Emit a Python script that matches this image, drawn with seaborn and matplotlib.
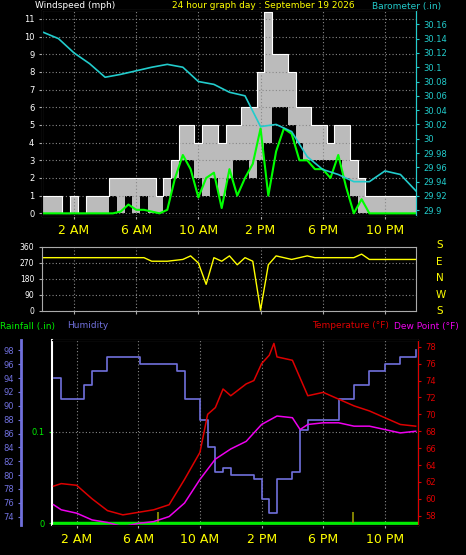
import numpy as np
import pandas as pd
import matplotlib
matplotlib.use('Agg')
import matplotlib.pyplot as plt
import seaborn as sns

# ---- data ----
half_hours = np.arange(0, 24.5, 0.5)

wind_gust = [1, 1, 1, 0, 1, 0, 1, 1, 1, 2, 2, 2, 2, 2, 2, 1, 2, 3, 5, 5,
             4, 5, 5, 4, 5, 5, 6, 6, 8, 11.4, 9, 9, 8, 6, 6, 5, 5, 4, 5, 5,
             3, 2, 1, 1, 1, 1, 1, 1, 1]
wind_low = [0, 0, 0, 0, 0, 0, 0, 0, 0, 1, 0, 1, 0, 1, 0, 0, 1, 2, 3, 3,
            2, 1, 2, 1, 2, 3, 3, 2, 3, 4, 6, 6, 5, 4, 3, 3, 3, 3, 3, 2,
            1, 0, 0, 0, 0, 0, 0, 0, 0]
wind_avg = [0, 0, 0, 0, 0, 0, 0, 0, 0, 0, 0.1, 0.5, 0.2, 0.2, 0.1, 0, 0.2, 2.0, 3.3, 2.5,
            0.9, 2.0, 2.3, 0.3, 2.5, 1.0, 2.0, 2.8, 4.8, 1.0, 3.5, 4.8, 4.5, 3.0, 3.0, 2.5,
            2.5, 2.0, 3.3, 1.5, 0, 0.8, 0, 0, 0, 0, 0, 0, 0]
wind_dir = [300, 300, 300, 300, 300, 300, 300, 300, 300, 300, 300, 300, 300, 300, 280, 280,
            280, 285, 290, 310, 270, 150, 300, 280, 310, 260, 300, 280, 5, 260, 310, 300,
            290, 300, 310, 300, 300, 300, 300, 300, 300, 320, 290, 290, 290, 290, 290, 290, 290]

hours = np.arange(0, 25)
barometer = [30.149, 30.14, 30.12, 30.105, 30.086, 30.09, 30.095, 30.10, 30.104, 30.10,
             30.08, 30.076, 30.065, 30.06, 30.017, 30.02, 30.01, 29.975, 29.957, 29.95,
             29.94, 29.94, 29.955, 29.95, 29.927]

th = [0.5, 1, 2, 3, 4, 5, 6, 7, 8, 9, 10, 10.5, 11, 11.5, 12, 13, 13.5, 14, 14.5, 14.8,
      15, 16, 17, 18, 19, 20, 21, 22, 23, 24]
temperature = [61.5, 61.8, 61.6, 60.0, 58.6, 58.1, 58.4, 58.7, 59.3, 62.3, 65.5, 70.0, 70.8,
               73.0, 72.2, 73.6, 74.0, 76.0, 77.0, 78.4, 76.8, 76.4, 72.2, 72.6, 71.8, 71.0,
               70.4, 69.6, 68.8, 68.6]
dh = [0.5, 1, 2, 3, 4, 5, 6, 7, 8, 9, 10, 11, 12, 13, 14, 15, 16, 16.5, 17, 18, 19, 20,
      21, 22, 23, 24]
dew_point = [59.3, 58.7, 58.3, 57.5, 57.2, 56.7, 57.1, 57.3, 57.9, 59.5, 62.3, 64.7, 65.9,
             66.8, 68.8, 69.8, 69.6, 68.2, 68.8, 69.0, 69.0, 68.6, 68.6, 68.2, 67.8, 68.0]
hh = [0.5, 1, 2, 2.5, 3, 4, 5, 6, 6.1, 7, 8, 8.5, 9, 10, 10.5, 11, 11.5, 12, 13, 13.5,
      14, 14.5, 15, 16, 16.5, 17, 18, 19, 20, 21, 22, 23, 24]
humidity = [94, 91, 91, 93, 95, 97, 97, 97, 96, 96, 96, 95, 91, 88, 84, 80.5, 81, 80, 80,
            79.5, 76.5, 74.5, 79.5, 80.5, 86.5, 88, 88, 91, 93, 95, 96, 97, 98]
rain_marks = [7.3, 19.9]

xticks = [2, 6, 10, 14, 18, 22]
xlabels = ['2 AM', '6 AM', '10 AM', '2 PM', '6 PM', '10 PM']

W, H = 466, 555
fig = plt.figure(figsize=(W / 100, H / 100), dpi=100, facecolor='black')


def px(l, t, r, b):
    return [l / W, 1 - b / H, (r - l) / W, (b - t) / H]


def style(ax, xlim):
    ax.set_facecolor('black')
    ax.set_xlim(*xlim)
    ax.grid(True, color='#888888', linestyle=(0, (1, 2)), linewidth=0.8)
    for s in ax.spines.values():
        s.set_color('#aaaaaa')
    ax.set_xticks(xticks)
    ax.tick_params(colors='#aaaaaa', labelsize=6, length=2)
    ax.set_xlabel('')
    ax.set_ylabel('')


# ---- top: wind + barometer ----
ax1 = fig.add_axes(px(42, 10, 416, 216))
ax1.fill_between(half_hours, wind_low, wind_gust, step='mid', color='#bbbbbb', lw=0)
ax1.step(half_hours, wind_gust, where='mid', color='white', lw=0.8)
sns.lineplot(x=half_hours, y=wind_avg, ax=ax1, color='#00ff00', lw=1.5)
style(ax1, (-0.06, 24.0))
ax1.set_ylim(-0.15, 11.5)
ax1.set_yticks(range(0, 12))
ax1.tick_params(axis='y', labelcolor='white')
ax1.set_xticklabels(xlabels, color='yellow', fontsize=9)
ax1b = ax1.twinx()
sns.lineplot(x=hours, y=barometer, ax=ax1b, color='#22cccc', lw=1.2)
ax1b.set_ylim(29.892, 30.18)
ax1b.set_yticks(np.round(np.arange(29.9, 30.17, 0.02), 2))
ax1b.set_yticklabels([f'{v:g}' for v in np.round(np.arange(29.9, 30.17, 0.02), 2)])
ax1b.tick_params(colors='#22cccc', labelsize=6, length=2)
ax1b.set_ylabel('')
ax1b.spines['right'].set_color('#22cccc')
fig.text(35 / W, 1 - 6 / H, 'Windspeed (mph)', color='white', fontsize=6.5, va='center')
fig.text(172 / W, 1 - 6 / H, '24 hour graph day : September 19 2026', color='yellow', fontsize=6.5, va='center')
fig.text(372 / W, 1 - 6 / H, 'Barometer (.in)', color='#22cccc', fontsize=6.5, va='center')

# ---- middle: wind direction ----
ax2 = fig.add_axes(px(42, 247, 416, 311))
sns.lineplot(x=half_hours, y=wind_dir, ax=ax2, color='yellow', lw=1)
style(ax2, (-0.06, 24.0))
ax2.set_ylim(0, 360)
ax2.set_yticks([0, 90, 180, 270, 360])
ax2.tick_params(axis='y', labelcolor='white', labelsize=5.5)
ax2.set_xticklabels([])
for lab, yy in zip(['S', 'E', 'N', 'W', 'S'], [245, 262, 278, 295, 311]):
    fig.text(436 / W, 1 - yy / H, lab, color='yellow', fontsize=7.5, va='center')

# ---- bottom: rain / humidity / temperature / dew point ----
ax3 = fig.add_axes(px(52, 340, 418, 525))
ax3.axhline(0, color='#00ee00', lw=2.5)
ax3.vlines(rain_marks, 0, 0.012, color='#999900', lw=1.2)
style(ax3, (0.4, 24.15))
ax3.set_ylim(-0.002, 0.2)
ax3.set_yticks([0, 0.1])
ax3.set_yticklabels(['0', '0.1'])
ax3.tick_params(axis='y', colors='#00ee00', labelsize=6)
ax3.spines['left'].set_color('white')
ax3.spines['left'].set_linewidth(1.5)
ax3.set_xticklabels(xlabels, color='yellow', fontsize=9)

ax3h = ax3.twinx()
sns.lineplot(x=hh, y=humidity, ax=ax3h, color='#7070dd', lw=1.2, drawstyle='steps-post')
ax3h.yaxis.set_label_position('left')
ax3h.yaxis.tick_left()
ax3h.spines['left'].set_position(('outward', 22))
ax3h.spines['left'].set_visible(True)
ax3h.spines['left'].set_color('#7070dd')
ax3h.spines['left'].set_linewidth(2)
ax3h.spines['right'].set_visible(False)
ax3h.set_ylim(72.8, 99.5)
ax3h.set_yticks(range(74, 100, 2))
ax3h.tick_params(colors='#7070dd', labelsize=6, length=2)
ax3h.set_ylabel('')

ax3t = ax3.twinx()
sns.lineplot(x=th, y=temperature, ax=ax3t, color='#dd0000', lw=1.1)
sns.lineplot(x=dh, y=dew_point, ax=ax3t, color='#ee00ee', lw=1.1)
ax3t.set_ylim(56.9, 78.8)
ax3t.set_yticks(range(58, 80, 2))
ax3t.tick_params(colors='#dd0000', labelsize=6, length=2)
ax3t.spines['right'].set_color('#dd0000')
ax3t.spines['left'].set_visible(False)
ax3t.set_ylabel('')

fig.text(0 / W, 1 - 326 / H, 'Rainfall (.in)', color='#00ee00', fontsize=6.5, va='center')
fig.text(67 / W, 1 - 326 / H, 'Humidity', color='#7070dd', fontsize=6.5, va='center')
fig.text(312 / W, 1 - 326 / H, 'Temperature (°F)', color='#dd0000', fontsize=6.5, va='center')
fig.text(394 / W, 1 - 326 / H, 'Dew Point (°F)', color='#ee00ee', fontsize=6.5, va='center')

fig.savefig('out.png', dpi=100, facecolor='black')
